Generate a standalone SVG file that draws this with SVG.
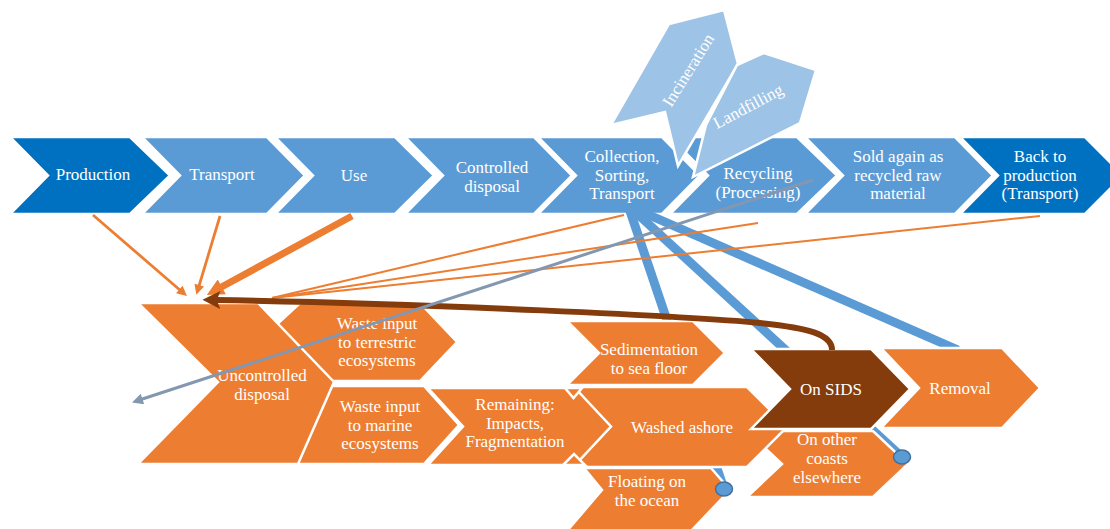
<svg xmlns="http://www.w3.org/2000/svg" width="1110" height="529" viewBox="0 0 1110 529">
<style>
.t{font-family:"Liberation Serif","Times New Roman",serif;font-size:17px;fill:#fff;text-anchor:middle}
.sh{stroke:#fff;stroke-width:2.5;stroke-linejoin:miter}
.dk{fill:#0070C0}
.md{fill:#5B9BD5}
.lt{fill:#9DC3E6}
.or{fill:#ED7D31}
.br{fill:#843C0C}
.bl{stroke:#5B9BD5;stroke-width:9;fill:none}
.ol{stroke:#ED7D31;fill:none}
</style>
<defs>
<marker id="aO" viewBox="0 0 10 10" refX="3" refY="5" markerWidth="12" markerHeight="10" markerUnits="userSpaceOnUse" orient="auto"><path d="M0,0 L10,5 L0,10 z" fill="#ED7D31"/></marker>
<marker id="aOb" viewBox="0 0 10 10" refX="3" refY="5" markerWidth="20" markerHeight="17" markerUnits="userSpaceOnUse" orient="auto"><path d="M0,0 L10,5 L0,10 z" fill="#ED7D31"/></marker>
<marker id="aB" viewBox="0 0 10 10" refX="3" refY="5" markerWidth="22" markerHeight="18" markerUnits="userSpaceOnUse" orient="auto"><path d="M0,0 L10,5 L0,10 L2,5 z" fill="#843C0C"/></marker>
<marker id="aG" viewBox="0 0 10 10" refX="3" refY="5" markerWidth="14" markerHeight="11" markerUnits="userSpaceOnUse" orient="auto"><path d="M0,0 L10,5 L0,10 z" fill="#8497B0"/></marker>
</defs>
<rect width="1110" height="529" fill="#fff"/>

<g id="production"><polygon class="sh dk" points="10,137 130,137 170,175.5 130,214 10,214 48,175.5"/><text class="t" x="93" y="180">Production</text></g>
<g id="transport"><polygon class="sh md" points="142,137 267,137 305,175.5 267,214 142,214 180,175.5"/><text class="t" x="222" y="180">Transport</text></g>
<g id="use"><polygon class="sh md" points="275,137 395,137 434,175.5 395,214 275,214 313,175.5"/><text class="t" x="354" y="181">Use</text></g>
<g id="controlled"><polygon class="sh md" points="405,137 534,137 572,175.5 534,214 405,214 443,175.5"/><text class="t" x="492" y="173"><tspan x="492">Controlled</tspan><tspan x="492" dy="18.5">disposal</tspan></text></g>
<g id="collection"><polygon class="sh md" points="538,137 662,137 700,175.5 662,214 538,214 576,175.5"/><text class="t" x="622" y="162"><tspan x="622">Collection,</tspan><tspan x="622" dy="18.5">Sorting,</tspan><tspan x="622" dy="18.5">Transport</tspan></text></g>
<g id="recycling"><polygon class="sh md" points="670,137 797,137 837,175.5 797,214 670,214 708,175.5"/><text class="t" x="758" y="179"><tspan x="758">Recycling</tspan><tspan x="758" dy="18.5">(Processing)</tspan></text></g>
<g id="sold"><polygon class="sh md" points="805,137 955,137 993,175.5 955,214 805,214 843,175.5"/><text class="t" x="898" y="162"><tspan x="898">Sold again as</tspan><tspan x="898" dy="18.5">recycled raw</tspan><tspan x="898" dy="18.5">material</tspan></text></g>
<g id="back"><polygon class="sh dk" points="960,137 1085,137 1123,175.5 1085,214 960,214 998,175.5"/><text class="t" x="1040" y="162"><tspan x="1040">Back to</tspan><tspan x="1040" dy="18.5">production</tspan><tspan x="1040" dy="18.5">(Transport)</tspan></text></g>

<g id="incineration"><polygon class="sh lt" points="669,24 724,10 738,64 678,166 665,112 611,125"/><text class="t" transform="translate(688,70) rotate(-58)" y="6">Incineration</text></g>
<g id="landfilling"><polygon class="sh lt" points="737,65 764,53 816,70 800,123 693,177 706,125"/><text class="t" transform="translate(748,106) rotate(-28)" y="6">Landfilling</text></g>

<g id="connectors-under">
<path class="bl" d="M629,208 L724,489"/>
<path class="bl" d="M631,208 L902,457"/>
<path class="bl" d="M633,208 L958,350"/>
</g>

<g id="on-other"><polygon class="sh or" points="747,431 873,431 908,464 873,497 747,497 782,464"/><text class="t" x="827" y="445"><tspan x="827">On other</tspan><tspan x="827" dy="19">coasts</tspan><tspan x="827" dy="19">elsewhere</tspan></text></g>
<g id="floating"><polygon class="sh or" points="584,468 711,468 730,490 691,531 567,531 602,490"/><text class="t" x="647" y="487"><tspan x="647">Floating on</tspan><tspan x="647" dy="18.5">the ocean</tspan></text></g>
<g id="sedimentation"><polygon class="sh or" points="567,321 693,321 725,353 693,385 567,385 599,353"/><text class="t" x="649" y="355"><tspan x="649">Sedimentation</tspan><tspan x="649" dy="18.5">to sea floor</tspan></text></g>
<g id="washed"><polygon class="sh or" points="573,387 747,387 787,427 747,467 573,467 610,427"/><text class="t" x="682" y="433">Washed ashore</text></g>
<g id="remaining"><polygon class="sh or" points="428,388 575,388 611,426.5 575,465 428,465 463,426.5"/><polygon class="sh or" points="565,388 582,388 573.5,398"/><polygon class="sh or" points="563,465 585,465 574,454"/><text class="t" x="515" y="410"><tspan x="515">Remaining:</tspan><tspan x="515" dy="18.5">Impacts,</tspan><tspan x="515" dy="18.5">Fragmentation</tspan></text></g>
<g id="terrestric"><polygon class="sh or" points="300,303 420,303 457,342 420,381 300,381 260,340"/><text class="t" x="377" y="329"><tspan x="377">Waste input</tspan><tspan x="377" dy="18.5">to terrestric</tspan><tspan x="377" dy="18.5">ecosystems</tspan></text></g>
<g id="marine"><polygon class="sh or" points="300,386 424,386 459,425 424,464 296,464"/><text class="t" x="380" y="412"><tspan x="380">Waste input</tspan><tspan x="380" dy="18.5">to marine</tspan><tspan x="380" dy="18.5">ecosystems</tspan></text></g>
<g id="uncontrolled"><polygon class="sh or" points="138,303 258,303 334,382 298,464 138,464 218,382"/><text class="t" x="262" y="381"><tspan x="262">Uncontrolled</tspan><tspan x="262" dy="18.5">disposal</tspan></text></g>
<g id="removal"><polygon class="sh or" points="881,348 1002,348 1040,388 1002,428 881,428 919,388"/><text class="t" x="960" y="394">Removal</text></g>
<g id="sids"><polygon class="sh br" points="751,349 871,349 910,389 871,429 751,429 790,389"/><text class="t" x="831" y="395">On SIDS</text></g>

<g id="connectors">
<ellipse cx="724" cy="489" rx="8.5" ry="7" fill="#5B9BD5" stroke="#41719C" stroke-width="1.5"/>
<ellipse cx="902" cy="457" rx="8.5" ry="7" fill="#5B9BD5" stroke="#41719C" stroke-width="1.5"/>
<path class="ol" stroke-width="2.75" d="M93,215 L181.6,291.5" marker-end="url(#aO)"/>
<path class="ol" stroke-width="2.75" d="M220,216 L198.4,288" marker-end="url(#aO)"/>
<path class="ol" stroke-width="7" d="M352,216 L217.3,289.3" marker-end="url(#aOb)"/>
<path class="ol" stroke-width="2" d="M624,215 L272,298"/>
<path class="ol" stroke-width="2" d="M758,223 L272,298"/>
<path class="ol" stroke-width="2" d="M1040,216 L272,298"/>
<path d="M832,350 C832,334 808,328 760,323 C700,317 420,303 215,300" stroke="#843C0C" stroke-width="6" fill="none" marker-end="url(#aB)"/>
<path d="M813,180 L139.3,400" stroke="#8497B0" stroke-width="3" fill="none" marker-end="url(#aG)"/>
</g>
</svg>
